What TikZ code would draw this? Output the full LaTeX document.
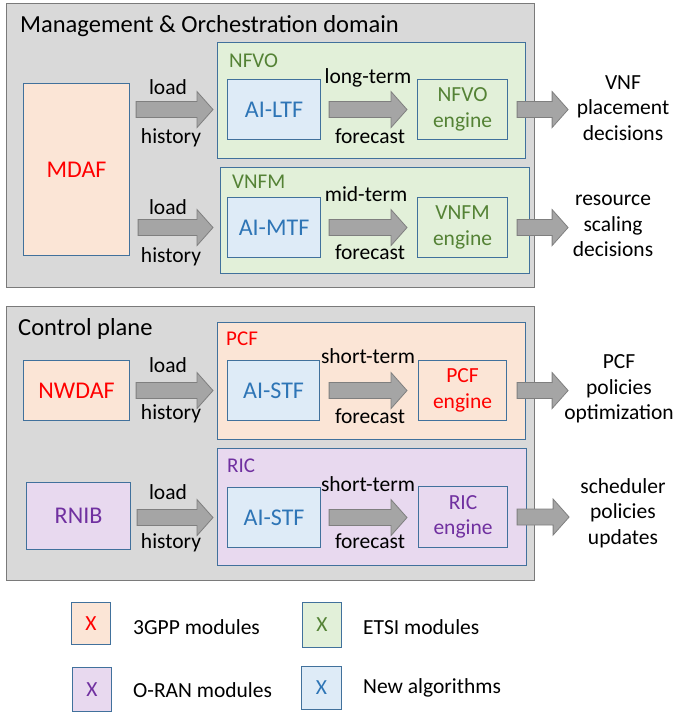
\documentclass[tikz,border=0pt]{standalone}
\usepackage{fontspec}
\setmainfont{Carlito}
\usetikzlibrary{calc}
\definecolor{panelfill}{HTML}{D9D9D9}
\definecolor{panelline}{HTML}{7A7A7A}
\definecolor{boxline}{HTML}{41719C}
\definecolor{peach}{HTML}{FBE5D6}
\definecolor{greenf}{HTML}{E2F0D9}
\definecolor{bluef}{HTML}{DEEBF7}
\definecolor{purplef}{HTML}{E8D9EF}
\definecolor{redt}{HTML}{FF0000}
\definecolor{greent}{HTML}{548235}
\definecolor{bluet}{HTML}{2E75B6}
\definecolor{purplet}{HTML}{7030A0}
\definecolor{arrowfill}{HTML}{A5A5A5}
\definecolor{arrowline}{HTML}{7F7F7F}
\begin{document}
\begin{tikzpicture}[x=1pt,y=-1pt,
  panel/.style={draw=panelline,fill=panelfill,line width=1.4pt},
  mod/.style={draw=boxline,line width=1.1pt,inner sep=0pt,align=center,anchor=north west},
  big/.style={font=\fontsize{24}{28}\selectfont},
  med/.style={font=\fontsize{21.5}{25.5}\selectfont},
  ttl/.style={font=\fontsize{24.5}{29}\selectfont,anchor=base west,inner sep=0pt},
  lbl/.style={font=\fontsize{21.5}{25.5}\selectfont,anchor=base,inner sep=0pt},
  sublbl/.style={font=\fontsize{21}{25}\selectfont,anchor=base west,inner sep=0pt},
  outtxt/.style={font=\fontsize{21.5}{25.5}\selectfont,align=center,inner sep=0pt},
  blockarrow/.style={draw=arrowline,fill=arrowfill,line width=0.8pt,line join=miter,
    to path={let \p1=(\tikztostart), \p2=(\tikztotarget) in
      (\x1,\y1+8pt) -- (\x2-16pt,\y1+8pt) -- (\x2-16pt,\y1+18pt) -- (\x2,\y1)
      -- (\x2-16pt,\y1-18pt) -- (\x2-16pt,\y1-8pt) -- (\x1,\y1-8pt) -- cycle}},
]
\useasboundingbox (0,0) rectangle (676,713);

% ---------------- Management & Orchestration domain
\node[panel,anchor=north west,minimum width=528pt,minimum height=284pt,inner sep=0pt] (mano) at (6,3) {};
\node[ttl] (manot) at (20,32) {Management \& Orchestration domain};

\node[mod,fill=peach,minimum width=106pt,minimum height=172pt,big,text=redt] (mdaf) at (23,83) {MDAF};

\node[mod,fill=greenf,minimum width=308pt,minimum height=116pt] (nfvo) at (217,42) {};
\node[sublbl,text=greent] (nfvot) at (229,67) {NFVO};
\node[mod,fill=bluef,minimum width=93pt,minimum height=60pt,big,text=bluet] (ailtf) at (227,79) {AI-LTF};
\node[mod,fill=greenf,minimum width=90pt,minimum height=60pt,med,text=greent] (nfvoeng) at (417,79) {NFVO\\engine};

\node[mod,fill=greenf,minimum width=309pt,minimum height=106pt] (vnfm) at (220,167) {};
\node[sublbl,text=greent] (vnfmt) at (232,188) {VNFM};
\node[mod,fill=bluef,minimum width=93pt,minimum height=60pt,big,text=bluet] (aimtf) at (227,197) {AI-MTF};
\node[mod,fill=greenf,minimum width=90pt,minimum height=60pt,med,text=greent] (vnfmeng) at (417,197) {VNFM\\engine};

% arrows (top)
\draw[blockarrow] ([xshift=6pt]mdaf.east |- ailtf.center) to ([xshift=-4pt]nfvo.west |- ailtf.center);
\node[lbl] (ld1) at (168,94) {load};
\node[lbl] (hi1) at (171,143) {history};
\draw[blockarrow] ([xshift=8pt]ailtf.east) to ([xshift=-10pt]nfvoeng.west);
\node[lbl] (lt1) at (368,83) {long-term};
\node[lbl] (fc1) at (370,143) {forecast};
\draw[blockarrow] ([xshift=9pt]nfvoeng.east) to ([xshift=60pt]nfvoeng.east);
\node[outtxt] (out1) at (623,108) {VNF\\placement\\decisions};

\draw[blockarrow] ([xshift=8pt]mdaf.east |- aimtf.center) to ([xshift=-7pt]vnfm.west |- aimtf.center);
\node[lbl] (ld2) at (168,214) {load};
\node[lbl] (hi2) at (171,262) {history};
\draw[blockarrow] ([xshift=8pt]aimtf.east) to ([xshift=-10pt]vnfmeng.west);
\node[lbl] (mt2) at (366,201) {mid-term};
\node[lbl] (fc2) at (370,259) {forecast};
\draw[blockarrow] ([xshift=9pt]vnfmeng.east) to ([xshift=60pt]vnfmeng.east);
\node[outtxt] (out2) at (613,226) {resource\\scaling\\decisions};

% ---------------- Control plane
\node[panel,anchor=north west,minimum width=528pt,minimum height=274pt,inner sep=0pt] (cp) at (6,306) {};
\node[ttl] (cpt) at (18,335) {Control plane};

\node[mod,fill=peach,minimum width=106pt,minimum height=60pt,big,text=redt] (nwdaf) at (23,360) {NWDAF};
\node[mod,fill=peach,minimum width=308pt,minimum height=117pt] (pcf) at (217,322) {};
\node[sublbl,text=redt] (pcft) at (226,345) {PCF};
\node[mod,fill=bluef,minimum width=92pt,minimum height=60pt,big,text=bluet] (aistf1) at (227,360) {AI-STF};
\node[mod,fill=peach,minimum width=88pt,minimum height=60pt,med,text=redt] (pcfeng) at (418,360) {PCF\\engine};

\draw[blockarrow] ([xshift=6pt]nwdaf.east) to ([xshift=-4pt]pcf.west |- nwdaf.center);
\node[lbl] (ld3) at (168,372) {load};
\node[lbl] (hi3) at (171,419) {history};
\draw[blockarrow] ([xshift=9pt]aistf1.east) to ([xshift=-11pt]pcfeng.west);
\node[lbl] (st3) at (368,363) {short-term};
\node[lbl] (fc3) at (370,423) {forecast};
\draw[blockarrow] ([xshift=10pt]pcfeng.east) to ([xshift=61pt]pcfeng.east);
\node[outtxt] (out3) at (619,389) {PCF\\policies\\optimization};

\node[mod,fill=purplef,minimum width=104pt,minimum height=67pt,big,text=purplet] (rnib) at (26,482) {RNIB};
\node[mod,fill=purplef,minimum width=309pt,minimum height=117pt] (ric) at (217,448) {};
\node[sublbl,text=purplet] (rict) at (227,472) {RIC};
\node[mod,fill=bluef,minimum width=93pt,minimum height=60pt,big,text=bluet] (aistf2) at (227,487) {AI-STF};
\node[mod,fill=purplef,minimum width=89pt,minimum height=61pt,med,text=purplet] (riceng) at (418,486) {RIC\\engine};

\draw[blockarrow] ([xshift=6pt]rnib.east |- aistf2.center) to ([xshift=-4pt]ric.west |- aistf2.center);
\node[lbl] (ld4) at (168,499) {load};
\node[lbl] (hi4) at (171,548) {history};
\draw[blockarrow] ([xshift=8pt]aistf2.east) to ([xshift=-11pt]riceng.west);
\node[lbl] (st4) at (368,491) {short-term};
\node[lbl] (fc4) at (370,548) {forecast};
\draw[blockarrow] ([xshift=9pt]riceng.east) to ([xshift=61pt]riceng.east);
\node[outtxt] (out4) at (623,513) {scheduler\\policies\\updates};

% ---------------- Legend
\node[mod,fill=peach,minimum width=39pt,minimum height=42pt,med,text=redt] (lg1) at (71,602) {X};
\node[med,anchor=west,inner sep=0pt] (lg1t) at (133,627) {3GPP modules};
\node[mod,fill=greenf,minimum width=39pt,minimum height=45pt,med,text=greent] (lg2) at (302,602) {X};
\node[med,anchor=west,inner sep=0pt] (lg2t) at (363,627) {ETSI modules};
\node[mod,fill=purplef,minimum width=39pt,minimum height=44pt,med,text=purplet] (lg3) at (72,667) {X};
\node[med,anchor=west,inner sep=0pt] (lg3t) at (133,690) {O-RAN modules};
\node[mod,fill=bluef,minimum width=40pt,minimum height=43pt,med,text=bluet] (lg4) at (301,666) {X};
\node[med,anchor=west,inner sep=0pt] (lg4t) at (363,688) {New algorithms};
\end{tikzpicture}
\end{document}
